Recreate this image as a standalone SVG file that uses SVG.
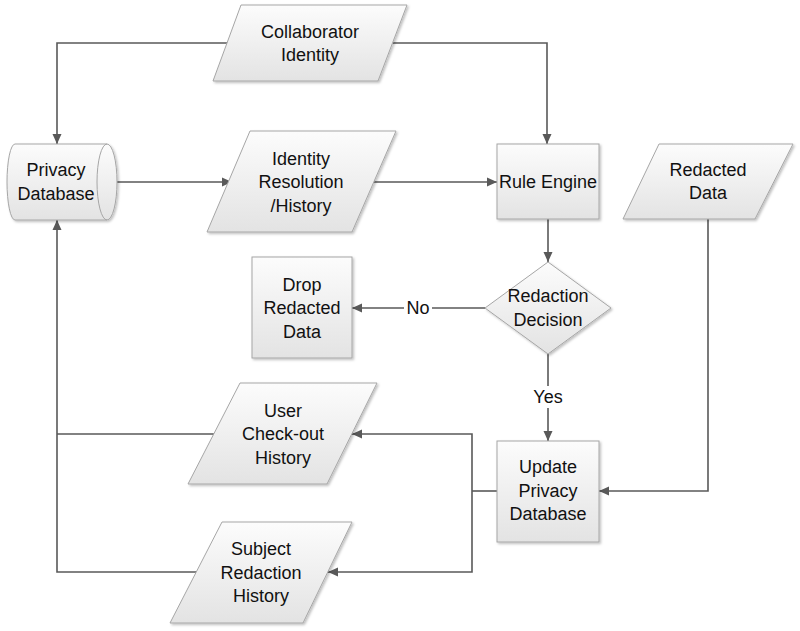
<svg xmlns="http://www.w3.org/2000/svg" width="800" height="631" viewBox="0 0 800 631">
<defs>
<linearGradient id="g" x1="0" y1="0" x2="0" y2="1">
<stop offset="0" stop-color="#fcfcfc"/>
<stop offset="1" stop-color="#e3e3e3"/>
</linearGradient>
<filter id="sh" x="-10%" y="-10%" width="130%" height="130%">
<feDropShadow dx="1.5" dy="1.5" stdDeviation="1" flood-color="#000" flood-opacity="0.25"/>
</filter>
<marker id="ah" viewBox="0 0 10 10" refX="10" refY="5" markerWidth="10" markerHeight="10" markerUnits="userSpaceOnUse" orient="auto">
<path d="M0,0.5 L10,5 L0,9.5 z" fill="#595959"/>
</marker>
</defs>
<style>
.n{fill:url(#g);stroke:#a6a6a6;stroke-width:1;filter:url(#sh)}
.t{font-family:"Liberation Sans",Arial,sans-serif;font-size:18px;fill:#111;text-anchor:middle;dominant-baseline:central}
.c{fill:none;stroke:#595959;stroke-width:1.6}
.a{marker-end:url(#ah)}
.lb{fill:#fff}
</style>
<rect width="800" height="631" fill="#fff"/>
<g id="connectors">
<path class="c a" d="M228,43 H57 V144"/>
<path class="c a" d="M393,43 H547 V144"/>
<path class="c a" d="M107,182 H232"/>
<path class="c a" d="M373,182 H497"/>
<path class="c a" d="M548,219 V262"/>
<path class="c a" d="M485,308 H352"/>
<path class="c a" d="M548,354 V441"/>
<path class="c a" d="M708,219 V491 H599"/>
<path class="c" d="M497,491 H472"/>
<path class="c a" d="M472,491 V434 H352"/>
<path class="c a" d="M472,491 V572 H328"/>
<path class="c" d="M214,434 H57"/>
<path class="c a" d="M196,572 H57 V220"/>
<rect class="lb" x="404" y="298" width="28" height="20"/>
<text class="t" x="418" y="308">No</text>
<rect class="lb" x="532" y="386" width="32" height="22"/>
<text class="t" x="548" y="397">Yes</text>
</g>
<g id="collaborator-identity">
<path class="n" d="M241,5 H407 L378,81 H213 Z"/>
<text class="t" x="310" y="32">Collaborator</text>
<text class="t" x="310" y="55">Identity</text>
</g>
<g id="privacy-database">
<path class="n" d="M15,144 L107,144 A10,38 0 0 1 107,220 L15,220 A8,38 0 0 1 15,144 Z"/>
<path d="M107,144 A10,38 0 0 0 107,220" fill="none" stroke="#a6a6a6" stroke-width="1"/>
<text class="t" x="56" y="170">Privacy</text>
<text class="t" x="56" y="194">Database</text>
</g>
<g id="identity-resolution">
<path class="n" d="M250,131 H396 L352,232 H207 Z"/>
<text class="t" x="301" y="159">Identity</text>
<text class="t" x="301" y="182">Resolution</text>
<text class="t" x="301" y="206">/History</text>
</g>
<g id="rule-engine">
<rect class="n" x="497" y="144" width="102" height="75"/>
<text class="t" x="548" y="182">Rule Engine</text>
</g>
<g id="redacted-data">
<path class="n" d="M659,144 H793 L755,219 H623 Z"/>
<text class="t" x="708" y="170">Redacted</text>
<text class="t" x="708" y="193">Data</text>
</g>
<g id="redaction-decision">
<path class="n" d="M548,262 L611,308 L548,354 L485,308 Z"/>
<text class="t" x="548" y="296">Redaction</text>
<text class="t" x="548" y="320">Decision</text>
</g>
<g id="drop-redacted-data">
<rect class="n" x="252" y="257" width="100" height="101"/>
<text class="t" x="302" y="285">Drop</text>
<text class="t" x="302" y="308">Redacted</text>
<text class="t" x="302" y="332">Data</text>
</g>
<g id="update-privacy-database">
<rect class="n" x="497" y="441" width="102" height="101"/>
<text class="t" x="548" y="467">Update</text>
<text class="t" x="548" y="491">Privacy</text>
<text class="t" x="548" y="514">Database</text>
</g>
<g id="user-checkout-history">
<path class="n" d="M240,383 H377 L327,484 H188 Z"/>
<text class="t" x="283" y="411">User</text>
<text class="t" x="283" y="434">Check-out</text>
<text class="t" x="283" y="458">History</text>
</g>
<g id="subject-redaction-history">
<path class="n" d="M222,522 H352 L303,623 H170 Z"/>
<text class="t" x="261" y="549">Subject</text>
<text class="t" x="261" y="573">Redaction</text>
<text class="t" x="261" y="596">History</text>
</g>
</svg>
